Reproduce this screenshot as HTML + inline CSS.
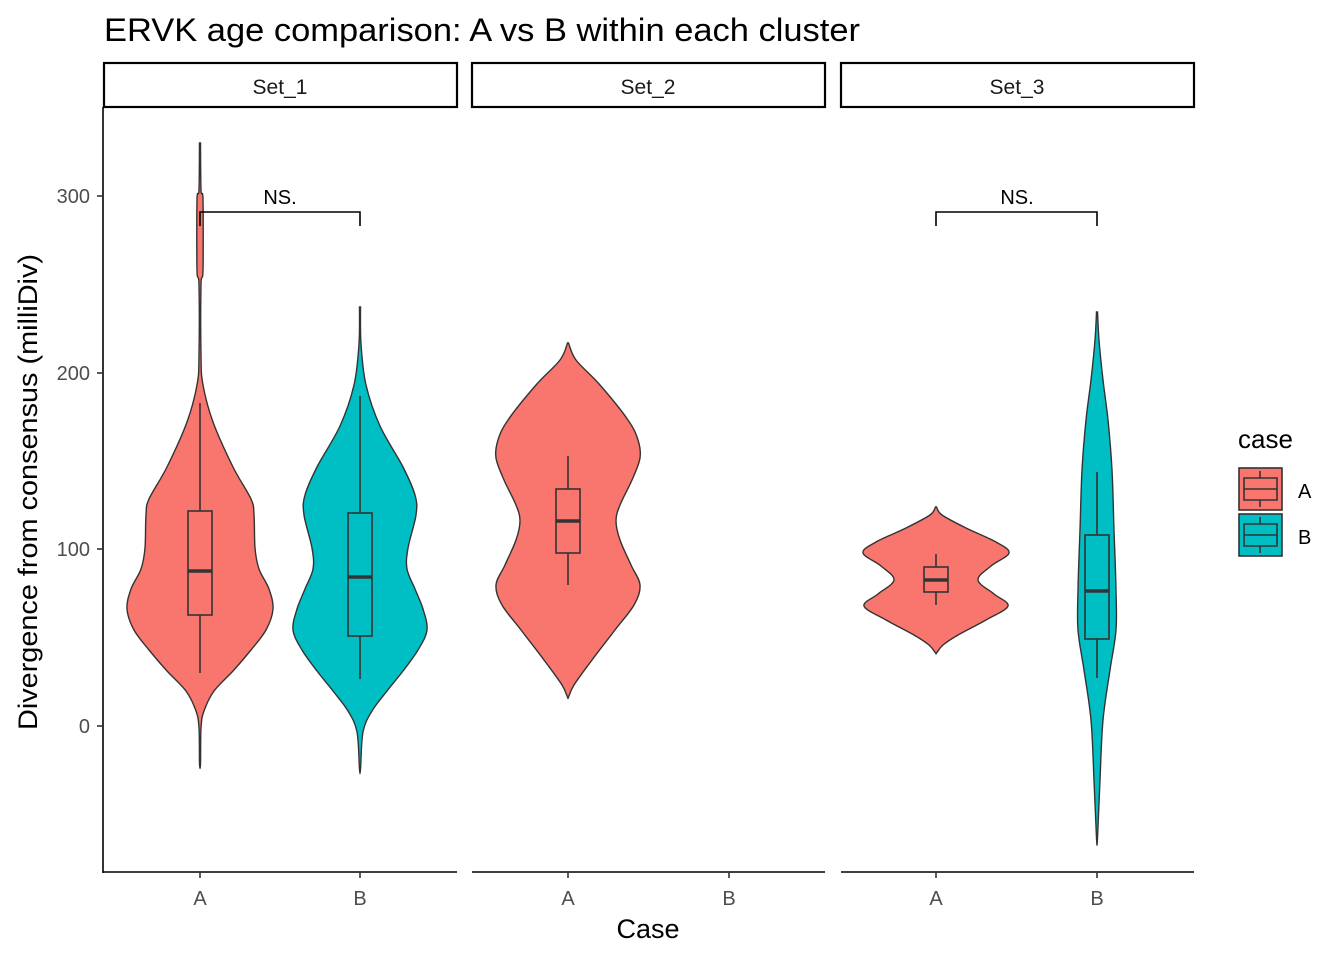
<!DOCTYPE html>
<html><head><meta charset="utf-8"><style>
html,body{margin:0;padding:0;background:#fff}
svg{display:block;font-family:"Liberation Sans",Arial,sans-serif}
</style></head><body>
<svg id="s" width="1344" height="960" viewBox="0 0 1344 960" xmlns="http://www.w3.org/2000/svg">
<text x="104" y="41" font-size="32" fill="#000" textLength="756" lengthAdjust="spacingAndGlyphs">ERVK age comparison: A vs B within each cluster</text>
<g fill="#fff" stroke="#000" stroke-width="2.2">
<rect x="104" y="63" width="353" height="44"/>
<rect x="472" y="63" width="353" height="44"/>
<rect x="841" y="63" width="353" height="44"/>
</g>
<g font-size="21" fill="#1a1a1a" text-anchor="middle">
<text x="280" y="94">Set_1</text><text x="648" y="94">Set_2</text><text x="1017" y="94">Set_3</text>
</g>
<g id="v"></g>
<g stroke="#000" stroke-width="1.6" fill="none">
<line x1="103" y1="107" x2="103" y2="873"/>
<line x1="103" y1="872" x2="457" y2="872"/>
<line x1="472" y1="872" x2="825" y2="872"/>
<line x1="841" y1="872" x2="1194" y2="872"/>
<path d="M200 226V212H360V226M936 226V212H1097V226"/>
</g>
<g stroke="#333" stroke-width="1.6">
<line x1="97" y1="196" x2="103" y2="196"/><line x1="97" y1="373" x2="103" y2="373"/>
<line x1="97" y1="549" x2="103" y2="549"/><line x1="97" y1="726" x2="103" y2="726"/>
<line x1="200" y1="872" x2="200" y2="878"/><line x1="360" y1="872" x2="360" y2="878"/>
<line x1="568" y1="872" x2="568" y2="878"/><line x1="729" y1="872" x2="729" y2="878"/>
<line x1="936" y1="872" x2="936" y2="878"/><line x1="1097" y1="872" x2="1097" y2="878"/>
</g>
<g font-size="20" fill="#4d4d4d" text-anchor="end">
<text x="90" y="203">300</text><text x="90" y="380">200</text><text x="90" y="556">100</text><text x="90" y="733">0</text>
</g>
<g font-size="20" fill="#4d4d4d" text-anchor="middle">
<text x="200" y="905">A</text><text x="360" y="905">B</text><text x="568" y="905">A</text><text x="729" y="905">B</text><text x="936" y="905">A</text><text x="1097" y="905">B</text>
</g>
<g font-size="20" fill="#000" text-anchor="middle"><text x="280" y="204">NS.</text><text x="1017" y="204">NS.</text></g>
<text x="648" y="938" font-size="27" text-anchor="middle" fill="#000">Case</text>
<text transform="translate(37,492) rotate(-90)" font-size="27" text-anchor="middle" fill="#000" textLength="476" lengthAdjust="spacingAndGlyphs">Divergence from consensus (milliDiv)</text>
<text x="1238" y="448" font-size="26" fill="#000">case</text>
<g stroke="#333" stroke-width="1.6">
<rect x="1239" y="468" width="43" height="42" fill="#F8766D"/>
<rect x="1239" y="514" width="43" height="42" fill="#00BFC4"/>
<path d="M1260 471V478M1260 500V507M1244 478H1277V500H1244ZM1244 489H1277M1260 517V524M1260 546V553M1244 524H1277V546H1244ZM1244 535H1277" fill="none"/>
</g>
<g font-size="20" fill="#000"><text x="1298" y="498">A</text><text x="1298" y="544">B</text></g>
</svg>
<script>
function vpath(cx,prof){
 var L=[],R=[];
 prof.forEach(function(p){R.push([cx+p[1],p[0]]);});
 for(var i=prof.length-1;i>=0;i--)L.push([cx-prof[i][1],prof[i][0]]);
 var pts=R.concat(L);
 function cr(a){var d="M"+a[0][0]+" "+a[0][1];
  for(var i=0;i<a.length-1;i++){var p0=a[Math.max(i-1,0)],p1=a[i],p2=a[i+1],p3=a[Math.min(i+2,a.length-1)];
   d+="C"+(p1[0]+(p2[0]-p0[0])/6).toFixed(1)+" "+(p1[1]+(p2[1]-p0[1])/6).toFixed(1)+" "+(p2[0]-(p3[0]-p1[0])/6).toFixed(1)+" "+(p2[1]-(p3[1]-p1[1])/6).toFixed(1)+" "+p2[0].toFixed(1)+" "+p2[1].toFixed(1);}
  return d+"Z";}
 return cr(pts);
}
var V=[
 [200,"#F8766D",[[143,0.5],[190,1],[200,3],[270,3],[285,1],[356,1],[385,3],[422,13],[467,33],[499,51],[515,54],[548,55],[569,59],[589,69],[609,73],[630,66],[650,51],[671,33],[691,14],[711,4],[728,1],[764,0.5]]],
 [360,"#00BFC4",[[307,0.5],[344,1],[385,6],[426,20],[467,43],[495,55],[515,56],[548,48],[569,47],[589,55],[609,63],[630,67],[650,58],[671,43],[691,27],[711,12],[732,3],[769,0.5]]],
 [568,"#F8766D",[[343,0.5],[360,8],[385,32],[420,60],[440,70],[458,72],[480,64],[505,52],[521,48],[540,52],[565,63],[585,72],[605,66],[630,47],[660,24],[685,6],[697,0.5]]],
 [936,"#F8766D",[[507,0.5],[515,6],[528,30],[542,60],[553,73],[566,55],[580,42],[594,58],[606,72],[620,50],[635,22],[645,7],[653,0.5]]],
 [1097,"#00BFC4",[[312,0.5],[340,2],[380,6],[420,11],[470,15],[530,17],[590,19],[630,19],[670,13],[720,6],[780,3],[838,0.5]]]
];
var B=[[200,403,511,571,615,673],[360,396,513,577,636,679],[568,456,489,521,553,585],[936,554,567,580,592,605],[1097,472,535,591,639,678]];
var g=document.getElementById("v"),h="";
V.forEach(function(v){h+='<path d="'+vpath(v[0],v[2])+'" fill="'+v[1]+'" stroke="#333" stroke-width="1.4"/>';});
B.forEach(function(b){var x=b[0];
 h+='<line x1="'+x+'" y1="'+b[1]+'" x2="'+x+'" y2="'+b[2]+'" stroke="#333" stroke-width="1.6"/>';
 h+='<line x1="'+x+'" y1="'+b[4]+'" x2="'+x+'" y2="'+b[5]+'" stroke="#333" stroke-width="1.6"/>';
 h+='<rect x="'+(x-12)+'" y="'+b[2]+'" width="24" height="'+(b[4]-b[2])+'" fill="none" stroke="#333" stroke-width="1.6"/>';
 h+='<line x1="'+(x-12)+'" y1="'+b[3]+'" x2="'+(x+12)+'" y2="'+b[3]+'" stroke="#333" stroke-width="3.5"/>';});
g.innerHTML=h;
</script>
</body></html>
